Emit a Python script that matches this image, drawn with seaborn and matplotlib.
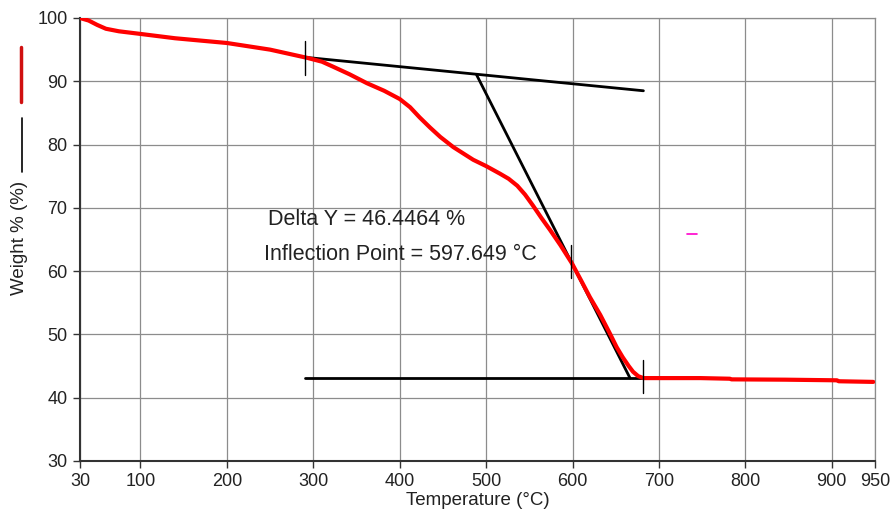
import numpy as np
import pandas as pd
import matplotlib
matplotlib.use("Agg")
import matplotlib.pyplot as plt
from matplotlib.lines import Line2D
import seaborn as sns

# TGA curve
TEMP = [30, 40, 50, 60, 75, 99, 140, 200, 250, 293, 310, 323, 342, 362, 382,
        400, 412, 423, 435, 447, 462, 485, 500, 516, 526, 536, 545, 554, 564,
        574, 586, 599, 610, 620, 632, 643, 651, 658, 665, 670, 676, 682, 748,
        782, 784, 846, 906, 908, 948]
WEIGHT = [100, 99.6, 98.9, 98.3, 97.9, 97.5, 96.8, 96.05, 95.0, 93.7, 93.1,
          92.3, 91.1, 89.7, 88.5, 87.2, 85.9, 84.3, 82.7, 81.2, 79.6, 77.6,
          76.6, 75.4, 74.6, 73.5, 72.1, 70.4, 68.4, 66.5, 64.1, 61.3, 58.5,
          55.9, 53.1, 50.2, 48.0, 46.4, 45.0, 44.1, 43.4, 43.1, 43.1, 43.0,
          42.9, 42.85, 42.75, 42.6, 42.5]

# tangent construction lines (start, end)
ONSET_T = [290, 682]
ONSET_W = [93.8, 88.5]
STEEP_T = [489, 666.5]
STEEP_W = [91.0, 43.1]
FINAL_T = [290, 682]
FINAL_W = [43.1, 43.1]

# short vertical markers
MARK_T = [290, 597.649, 682]
MARK_LO = [91.0, 58.9, 40.8]
MARK_HI = [96.4, 64.1, 46.0]

X_TICKS = [30, 100, 200, 300, 400, 500, 600, 700, 800, 900, 950]
Y_TICKS = [30, 40, 50, 60, 70, 80, 90, 100]

sns.set_style("white")
plt.rcParams['font.family'] = ['Liberation Sans', 'DejaVu Sans']

fig = plt.figure(figsize=(8.93, 5.2), dpi=100)
ax = fig.add_axes([80 / 893, 1 - 461 / 520, 795 / 893, 443 / 520])

df = pd.DataFrame({'Temperature': TEMP, 'Weight': WEIGHT})

for t_line, w_line in [(ONSET_T, ONSET_W), (STEEP_T, STEEP_W), (FINAL_T, FINAL_W)]:
    ax.plot(t_line, w_line, color='black', lw=2.0, zorder=3)

for t, lo, hi in zip(MARK_T, MARK_LO, MARK_HI):
    ax.plot([t, t], [lo, hi], color='black', lw=1.0, zorder=5)

sns.lineplot(data=df, x='Temperature', y='Weight', color='#ff0000', lw=3.0,
             ax=ax, zorder=4, estimator=None, sort=False)
ax.lines[-1].set_solid_joinstyle('round')

ax.plot([733, 744], [65.9, 65.9], color='#ff00cc', lw=1.2)

ax.text(248, 68.2, 'Delta Y = 46.4464 %', fontsize=15.5, va='center', ha='left',
        color='#222222')
ax.text(243, 62.6, 'Inflection Point = 597.649 °C', fontsize=15.5, va='center',
        ha='left', color='#222222')

ax.set_xlim(30, 950)
ax.set_ylim(30, 100)
ax.set_xticks(X_TICKS)
ax.set_yticks(Y_TICKS)
ax.grid(True, color='#8c8c8c', lw=0.9)
ax.tick_params(axis='both', direction='out', length=5, width=1, color='#333333',
               labelsize=13, labelcolor='#222222', pad=4, left=True, bottom=True)
for side, sp in ax.spines.items():
    sp.set_color('#333333' if side in ('left', 'bottom') else '#8c8c8c')
    sp.set_linewidth(1.5 if side in ('left', 'bottom') else 0.9)

ax.set_xlabel('Temperature (°C)', fontsize=13.5, labelpad=1, color='#222222')
ax.set_ylabel('')

# y label with the two little series swatches above it
fig.text(20 / 893, 1 - 238 / 520, 'Weight % (%)', rotation=90, fontsize=13.5,
         ha='center', va='center', color='#222222')
fig.add_artist(Line2D([21 / 893, 21 / 893], [1 - 47 / 520, 1 - 102 / 520],
                      color='#d01010', lw=2.5, transform=fig.transFigure))
fig.add_artist(Line2D([22 / 893, 22 / 893], [1 - 118 / 520, 1 - 172 / 520],
                      color='black', lw=1.2, transform=fig.transFigure))

fig.savefig('out.png', dpi=100)
